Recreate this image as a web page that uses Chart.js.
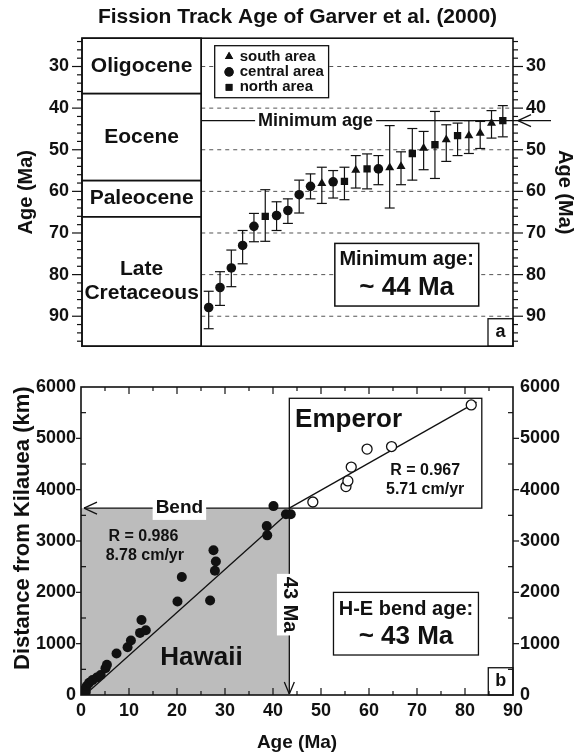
<!DOCTYPE html>
<html>
<head>
<meta charset="utf-8">
<script src="https://cdn.jsdelivr.net/npm/chart.js@4.4.1/dist/chart.umd.min.js"></script>
<style>
  html, body { margin:0; padding:0; background:#fff; }
  #wrap { position:relative; width:581px; height:755px; overflow:hidden; background:#fff; }
  #ca { position:absolute; left:0; top:0; width:581px; height:360px; }
  #cb { position:absolute; left:0; top:360px; width:581px; height:395px; }
</style>
</head>
<body>
<div id="wrap">
  <canvas id="ca" width="581" height="360"></canvas>
  <canvas id="cb" width="581" height="395"></canvas>
</div>
<script>
// ================= Panel a : fission-track ages =================
const ftRank  = [1,2,3,4,5,6,7,8,9,10,11,12,13,14,15,16,17,18,19,20,21,22,23,24,25,26,27];
const ftArea  = ['central','central','central','central','central','north','central','central','central','central',
                 'south','central','north','south','north','central','south','south','north','south',
                 'north','south','north','south','south','south','north'];
const ftAge   = [87.9,83.1,78.4,73.0,68.4,66.0,65.8,64.6,60.8,58.8,58.1,57.7,57.6,54.9,54.6,54.6,54.3,54.0,50.9,49.6,48.8,47.6,46.6,46.6,46.0,43.6,43.0];
const ftAgeLo = [84.0,79.3,74.1,69.4,65.3,59.6,62.5,61.8,57.3,55.8,54.2,55.0,54.2,51.4,51.0,51.4,44.2,50.5,44.9,45.6,40.8,44.0,43.6,43.0,43.2,40.6,39.4];
const ftAgeHi = [93.0,87.4,82.9,77.4,72.1,72.0,69.4,67.7,65.2,61.8,62.9,61.6,62.0,59.2,59.4,58.4,64.0,58.4,57.3,54.8,56.9,52.8,51.4,50.9,49.7,47.2,46.9];
const areaKeys   = ['south','central','north'];
const areaLabels = ['south area','central area','north area'];
const areaStyles = ['triangle','circle','rect'];
const ageGridTicks = [30,40,50,60,70,80,90];
const epochNames   = ['Oligocene','Eocene','Paleocene','Late|Cretaceous'];
const epochLimits  = [36.5,57.4,66.1];
const minimumAge   = 43;

// ================= Panel b : Hawaii–Emperor age vs distance =================
const hawaiiAge   = [0.6,0.8,1.0,1.2,1.7,2.4,3.3,4.1,5.1,5.4,7.4,9.7,10.4,12.3,12.6,13.5,20.1,21.0,26.9,27.6,27.9,28.1,38.7,38.8,40.1,42.7,43.7];
const hawaiiDist  = [15,110,60,175,240,290,340,390,520,590,810,930,1060,1210,1460,1260,1820,2300,1840,2820,2420,2600,3290,3110,3680,3520,3520];
const emperorAge  = [48.3,55.2,55.6,56.3,59.6,64.7,81.3];
const emperorDist = [3760,4060,4170,4440,4790,4840,5650];
const hawaiiFitAge   = [0.8,43.4];
const hawaiiFitDist  = [0,3570];
const emperorFitAge  = [43.4,82.4];
const emperorFitDist = [3640,5706];
const bendAge  = 43.4;
const bendDist = 3640;

// ================= helpers =================
const FONT = '"Liberation Sans", Arial, Helvetica, sans-serif';
const INK = '#111';
Chart.defaults.font.family = FONT;
Chart.defaults.font.weight = 'bold';
Chart.defaults.color = INK;

function fnt(sz){ return 'bold ' + sz + 'px ' + FONT; }
function txt(ctx, s, x, y, sz, opt) {
  opt = opt || {};
  ctx.save();
  ctx.font = fnt(sz);
  ctx.textAlign = opt.align || 'center';
  ctx.textBaseline = 'middle';
  ctx.translate(x, y);
  if (opt.rot) ctx.rotate(opt.rot);
  if (opt.bg) {
    const w = ctx.measureText(s).width;
    ctx.fillStyle = '#fff';
    ctx.fillRect(-w/2 - 3, -sz*0.62, w + 6, sz*1.24);
  }
  ctx.fillStyle = INK;
  ctx.fillText(s, 0, 0);
  ctx.restore();
}
function seg(ctx, x1, y1, x2, y2, w, dash, col) {
  ctx.save();
  ctx.beginPath();
  ctx.lineWidth = w || 1.2;
  ctx.strokeStyle = col || INK;
  if (dash) ctx.setLineDash(dash);
  ctx.moveTo(x1, y1); ctx.lineTo(x2, y2);
  ctx.stroke();
  ctx.restore();
}
function rect(ctx, x1, y1, x2, y2, w, fill) {
  ctx.save();
  if (fill) { ctx.fillStyle = fill; ctx.fillRect(Math.min(x1,x2), Math.min(y1,y2), Math.abs(x2-x1), Math.abs(y2-y1)); }
  if (w) { ctx.lineWidth = w; ctx.strokeStyle = INK; ctx.strokeRect(Math.min(x1,x2), Math.min(y1,y2), Math.abs(x2-x1), Math.abs(y2-y1)); }
  ctx.restore();
}

// ================= Panel a chart =================
const columnEdge = 0.34;   // right edge of the geologic time column (in rank units)

const panelA = {
  id: 'panelA',
  beforeDatasetsDraw(chart) {
    const { ctx, chartArea: a, scales: { x, y } } = chart;
    const colX = x.getPixelForValue(columnEdge);
    ageGridTicks.forEach(v => {
      const py = y.getPixelForValue(v);
      seg(ctx, colX, py, a.right, py, 1, [4, 4], '#555');
    });
    const my = y.getPixelForValue(minimumAge);
    seg(ctx, colX, my, a.right + 38, my, 1.3);
    seg(ctx, a.right + 5, my, a.right + 18, my - 6, 1.3);
    seg(ctx, a.right + 5, my, a.right + 18, my + 6, 1.3);
    txt(ctx, 'Minimum age', x.getPixelForValue(10.45), my, 18, { bg: true });
    ftRank.forEach((r, i) => {
      const px = x.getPixelForValue(r);
      const y1 = y.getPixelForValue(ftAgeLo[i]);
      const y2 = y.getPixelForValue(ftAgeHi[i]);
      seg(ctx, px, y1, px, y2, 1.2);
      seg(ctx, px - 5, y1, px + 5, y1, 1.2);
      seg(ctx, px - 5, y2, px + 5, y2, 1.2);
    });
  },
  afterDatasetsDraw(chart) {
    const { ctx, chartArea: a, scales: { x, y } } = chart;
    const colX = x.getPixelForValue(columnEdge);
    // geologic column
    const b = [y.min].concat(epochLimits).concat([y.max]);
    const cx = (a.left + colX) / 2;
    for (let i = 0; i < epochNames.length; i++) {
      const y1 = y.getPixelForValue(b[i]), y2 = y.getPixelForValue(b[i + 1]);
      rect(ctx, a.left, y1, colX, y2, 1.5);
      const parts = epochNames[i].split('|');
      const cy = (y1 + y2) / 2;
      parts.forEach((p, k) => txt(ctx, p, cx, cy + (k - (parts.length - 1) / 2) * 24, 21));
    }
    // legend
    rect(ctx, x.getPixelForValue(1.53), y.getPixelForValue(25.0), x.getPixelForValue(11.6), y.getPixelForValue(37.5), 1.3, '#fff');
    const legY = [27.6, 31.3, 35.0];
    areaKeys.forEach((k, j) => {
      const py = y.getPixelForValue(legY[j]);
      ctx.save(); ctx.fillStyle = INK; ctx.strokeStyle = INK;
      Chart.helpers.drawPoint(ctx, { pointStyle: areaStyles[j], radius: j === 1 ? 4.6 : 4.8, borderWidth: 0 }, x.getPixelForValue(2.8), py);
      ctx.fill();
      ctx.restore();
      txt(ctx, areaLabels[j], x.getPixelForValue(3.74), py, 15, { align: 'left' });
    });
    // minimum age box
    rect(ctx, x.getPixelForValue(12.15), y.getPixelForValue(72.5), x.getPixelForValue(24.87), y.getPixelForValue(87.55), 1.5, '#fff');
    const bx = x.getPixelForValue(18.5);
    txt(ctx, 'Minimum age:', bx, y.getPixelForValue(76.35), 20);
    txt(ctx, '~ 44 Ma', bx, y.getPixelForValue(83.07), 26);
    // panel letter
    rect(ctx, x.getPixelForValue(25.69), y.getPixelForValue(90.6), a.right, a.bottom, 1.3, '#fff');
    txt(ctx, 'a', (x.getPixelForValue(25.69) + a.right) / 2, (y.getPixelForValue(90.6) + a.bottom) / 2, 18);
    // frame + ticks
    rect(ctx, a.left, a.top, a.right, a.bottom, 1.6);
    seg(ctx, colX, a.top, colX, a.bottom, 1.5);
    for (let v = 24; v <= 96; v += 2) {
      const py = y.getPixelForValue(v);
      const len = v % 10 === 0 ? 10 : 5;
      seg(ctx, a.left - len, py, a.left, py, 1.2);
      seg(ctx, a.right, py, a.right + len, py, 1.2);
    }
  }
};

const dsA = areaKeys.map((k, j) => ({
  label: areaLabels[j],
  data: ftRank.map((r, i) => ({ x: r, y: ftAge[i], area: ftArea[i] })).filter(p => p.area === k),
  pointStyle: areaStyles[j],
  pointRadius: j === 1 ? 4.8 : 5.2,
  backgroundColor: INK,
  borderColor: INK,
  borderWidth: 0,
  showLine: false
}));

const yAxisA = (pos) => ({
  type: 'linear', position: pos, reverse: true, min: 23.2, max: 97.2,
  grid: { display: false, tickLength: 10 },
  border: { display: false },
  ticks: { stepSize: 10, includeBounds: false, padding: 3, color: INK, font: { size: 18, weight: 'bold' } },
  title: { display: true, text: 'Age (Ma)', color: INK, font: { size: 20, weight: 'bold' },
           padding: { top: pos === 'left' ? 14 : 4, bottom: 0 } },
  afterFit: s => { s.width = pos === 'left' ? 82 : 68; }
});

new Chart(document.getElementById('ca'), {
  type: 'scatter',
  data: { datasets: dsA },
  options: {
    responsive: false, animation: false, events: [],
    layout: { padding: { top: 0, bottom: 13, left: 0, right: 0 }, autoPadding: false },
    plugins: {
      legend: { display: false }, tooltip: { enabled: false },
      title: { display: true, text: 'Fission Track Age of Garver et al. (2000)', fullSize: false, color: INK,
               font: { size: 21, weight: 'bold' }, padding: { top: 5, bottom: 8 } }
    },
    scales: {
      x: { type: 'linear', display: false, min: -10.2, max: 27.9 },
      y: yAxisA('left'),
      y2: yAxisA('right')
    }
  },
  plugins: [panelA]
});

// ================= Panel b chart =================
const panelB = {
  id: 'panelB',
  beforeDatasetsDraw(chart) {
    const { ctx, chartArea: a, scales: { x, y } } = chart;
    const bx = x.getPixelForValue(bendAge), by = y.getPixelForValue(bendDist);
    rect(ctx, x.getPixelForValue(0), y.getPixelForValue(0), bx, by, 0, '#bcbcbc');
    // Emperor box
    rect(ctx, bx, by, x.getPixelForValue(83.5), y.getPixelForValue(5780), 1.3);
    // H-E box
    rect(ctx, x.getPixelForValue(52.6), y.getPixelForValue(1999), x.getPixelForValue(82.8), y.getPixelForValue(779), 1.3);
    // b box
    rect(ctx, x.getPixelForValue(84.85), y.getPixelForValue(531), a.right, a.bottom, 1.3);
    // bend arrow
    seg(ctx, bx, by, a.left + 3, by, 1.3);
    seg(ctx, a.left + 3, by, a.left + 16, by - 6, 1.3);
    seg(ctx, a.left + 3, by, a.left + 16, by + 6, 1.3);
    // 43 Ma arrow
    seg(ctx, bx, by, bx, a.bottom - 1, 1.3);
    seg(ctx, bx, a.bottom - 1, bx - 5, a.bottom - 13, 1.3);
    seg(ctx, bx, a.bottom - 1, bx + 5, a.bottom - 13, 1.3);
  },
  afterDatasetsDraw(chart) {
    const { ctx, chartArea: a, scales: { x, y } } = chart;
    const P = (ax, d) => [x.getPixelForValue(ax), y.getPixelForValue(d)];
    let p;
    p = P(20.5, bendDist); txt(ctx, 'Bend', p[0], p[1], 19, { bg: true });
    p = P(bendAge, 1760); txt(ctx, '43 Ma', p[0], p[1], 20, { bg: true, rot: Math.PI / 2 });
    p = P(44.6, 5370); txt(ctx, 'Emperor', p[0], p[1], 26, { align: 'left' });
    p = P(71.7, 4379); txt(ctx, 'R = 0.967', p[0], p[1], 16);
    p = P(71.7, 4003); txt(ctx, '5.71 cm/yr', p[0], p[1], 16);
    p = P(13.0, 3081); txt(ctx, 'R = 0.986', p[0], p[1], 16);
    p = P(13.3, 2725); txt(ctx, '8.78 cm/yr', p[0], p[1], 16);
    p = P(25.1, 720); txt(ctx, 'Hawaii', p[0], p[1], 26);
    p = P(67.7, 1674); txt(ctx, 'H-E bend age:', p[0], p[1], 20);
    p = P(67.7, 1129); txt(ctx, '~ 43 Ma', p[0], p[1], 26);
    const lx = (x.getPixelForValue(84.85) + a.right) / 2;
    txt(ctx, 'b', lx, (y.getPixelForValue(531) + a.bottom) / 2, 18);
    // left axis title
    txt(ctx, 'Distance from Kilauea (km)', 23, y.getPixelForValue(3250), 22, { rot: -Math.PI / 2 });
    // frame and ticks
    rect(ctx, a.left, a.top, a.right, a.bottom, 1.6);
    for (let v = 5; v <= 85; v += 5) {
      const px = x.getPixelForValue(v);
      const len = v % 10 === 0 ? 7 : 4;
      seg(ctx, px, a.bottom, px, a.bottom - len, 1.2);
      seg(ctx, px, a.top, px, a.top + len, 1.2);
    }
    for (let v = 500; v <= 5500; v += 500) {
      const py = y.getPixelForValue(v);
      if (v % 1000 === 0) {
        seg(ctx, a.left - 5, py, a.left, py, 1.2);
        seg(ctx, a.right, py, a.right + 6, py, 1.2);
      } else {
        seg(ctx, a.left, py, a.left + 5, py, 1.2);
        seg(ctx, a.right - 5, py, a.right, py, 1.2);
      }
    }
  }
};

const yAxisB = (pos) => ({
  type: 'linear', position: pos, min: 0, max: 6000,
  grid: { display: false, drawTicks: false },
  border: { display: false },
  ticks: { stepSize: 1000, padding: pos === 'left' ? 5 : 7, color: INK, font: { size: 18, weight: 'bold' },
           callback: v => String(v) },
  title: { display: false },
  afterFit: s => { s.width = pos === 'left' ? 81 : 68; }
});

new Chart(document.getElementById('cb'), {
  type: 'scatter',
  data: {
    datasets: [
      { label: 'Hawaii', data: hawaiiAge.map((v, i) => ({ x: v, y: hawaiiDist[i] })),
        pointRadius: 5, backgroundColor: INK, borderColor: INK, borderWidth: 0, showLine: false },
      { label: 'Emperor', data: emperorAge.map((v, i) => ({ x: v, y: emperorDist[i] })),
        pointRadius: 5, backgroundColor: '#fff', borderColor: INK, borderWidth: 1.3, showLine: false },
      { label: 'Hawaii fit', data: hawaiiFitAge.map((v, i) => ({ x: v, y: hawaiiFitDist[i] })),
        showLine: true, pointRadius: 0, borderColor: INK, borderWidth: 1.3, fill: false },
      { label: 'Emperor fit', data: emperorFitAge.map((v, i) => ({ x: v, y: emperorFitDist[i] })),
        showLine: true, pointRadius: 0, borderColor: INK, borderWidth: 1.3, fill: false }
    ]
  },
  options: {
    responsive: false, animation: false, events: [],
    layout: { padding: { top: 27, bottom: 0, left: 0, right: 0 }, autoPadding: false },
    plugins: { legend: { display: false }, tooltip: { enabled: false } },
    scales: {
      x: { type: 'linear', position: 'bottom', min: 0, max: 90,
           grid: { display: false, drawTicks: false }, border: { display: false },
           ticks: { stepSize: 10, padding: 5, color: INK, font: { size: 18, weight: 'bold' } },
           title: { display: true, text: 'Age (Ma)', color: INK, font: { size: 19, weight: 'bold' }, padding: { top: 0, bottom: 1 } },
           afterFit: s => { s.height = 60; } },
      y: yAxisB('left'),
      y2: yAxisB('right')
    }
  },
  plugins: [panelB]
});
</script>
</body>
</html>
